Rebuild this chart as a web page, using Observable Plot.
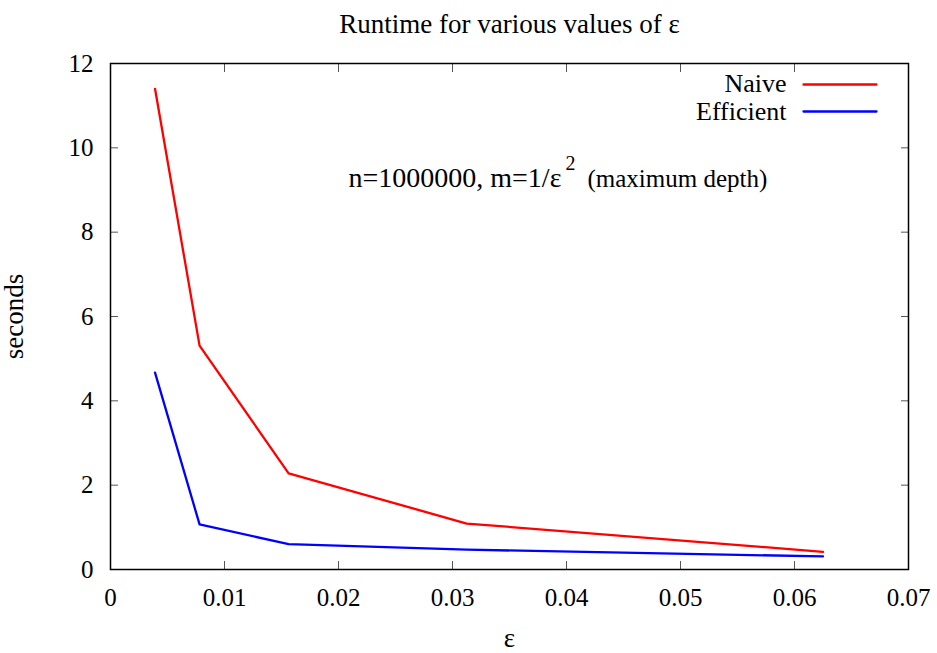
<!DOCTYPE html>
<html>
<head>
<meta charset="utf-8">
<script src="https://cdn.jsdelivr.net/npm/d3@7"></script>
<script src="https://cdn.jsdelivr.net/npm/@observablehq/plot@0.6"></script>
<style>
  html, body { margin: 0; padding: 0; background: white; }
</style>
</head>
<body>
<div id="chart"></div>
<script>
// ---- data ----
const eps = [0.00390625, 0.0078125, 0.015625, 0.03125, 0.0625];
const naive = [11.4, 5.31, 2.28, 1.09, 0.42];
const efficient = [4.67, 1.07, 0.60, 0.47, 0.31];
const xTicks = [0, 0.01, 0.02, 0.03, 0.04, 0.05, 0.06, 0.07];
const xTickLabels = ["0", "0.01", "0.02", "0.03", "0.04", "0.05", "0.06", "0.07"];
const yTicks = [0, 2, 4, 6, 8, 10, 12];
const yTickLabels = ["0", "2", "4", "6", "8", "10", "12"];
const seriesNames = ["Naive", "Efficient"];
const seriesColors = ["#ff0000", "#0000ff"];
const titleText = "Runtime for various values of ε";
const xLabel = "ε";
const yLabel = "seconds";
const annotationParts = ["n=1000000, m=1/ε", "2", "(maximum depth)"];

const naiveData = eps.map((x, i) => ({x, y: naive[i]}));
const effData = eps.map((x, i) => ({x, y: efficient[i]}));

const FS = 27;      // title, labels
const LFS = 26;     // legend
const TFS = 25;     // tick labels
const font = "'Liberation Serif', 'Times New Roman', Times, serif";
const lineShape = {draw(ctx, l) { ctx.moveTo(0, 0); ctx.lineTo(0, -l); }};

const chart = Plot.plot({
  width: 937,
  height: 653,
  marginLeft: 110,
  marginRight: 29,
  marginTop: 63,
  marginBottom: 84,
  style: {fontFamily: font, fontSize: FS + "px", background: "white", color: "black", overflow: "visible"},
  x: {domain: [0, 0.07], label: null},
  y: {domain: [0, 12], label: null},
  marks: [
    // mirrored inward ticks
    Plot.axisX(xTicks, {anchor: "bottom", tickSize: -8, tickPadding: 27, label: null,
      tickFormat: d => xTickLabels[xTicks.indexOf(d)], fontSize: TFS, fontFamily: font, stroke: "#555"}),
    Plot.axisX(xTicks, {anchor: "top", tickSize: -8, label: null, tickFormat: () => "", stroke: "#555"}),
    Plot.axisY(yTicks, {anchor: "left", tickSize: -8, tickPadding: 25, label: null,
      tickFormat: d => yTickLabels[yTicks.indexOf(d)], fontSize: TFS, fontFamily: font, stroke: "#555"}),
    Plot.axisY(yTicks, {anchor: "right", tickSize: -8, label: null, tickFormat: () => "", stroke: "#555"}),
    Plot.frame({stroke: "black", strokeWidth: 1.5}),
    // series
    Plot.line(naiveData, {x: "x", y: "y", stroke: seriesColors[0], strokeWidth: 2.3}),
    Plot.line(effData, {x: "x", y: "y", stroke: seriesColors[1], strokeWidth: 2.3}),
    // legend
    Plot.text([seriesNames[0]], {frameAnchor: "top-right", dx: -122, dy: 20, textAnchor: "end", lineAnchor: "middle", fontSize: LFS, fontFamily: font}),
    Plot.text([seriesNames[1]], {frameAnchor: "top-right", dx: -122, dy: 48, textAnchor: "end", lineAnchor: "middle", fontSize: LFS, fontFamily: font}),
    Plot.vector([seriesNames[0]], {frameAnchor: "top-right", dx: -105, dy: 21, rotate: 90, length: 73, anchor: "start", shape: lineShape, stroke: seriesColors[0], strokeWidth: 2.3}),
    Plot.vector([seriesNames[1]], {frameAnchor: "top-right", dx: -105, dy: 48, rotate: 90, length: 73, anchor: "start", shape: lineShape, stroke: seriesColors[1], strokeWidth: 2.3}),
    // annotation (with superscript)
    Plot.text([annotationParts[0]], {frameAnchor: "top-left", dx: 238, dy: 123, textAnchor: "start", lineAnchor: "bottom", fontSize: 28, fontFamily: font}),
    Plot.text([annotationParts[1]], {frameAnchor: "top-left", dx: 455, dy: 106, textAnchor: "start", lineAnchor: "bottom", fontSize: 20, fontFamily: font}),
    Plot.text([annotationParts[2]], {frameAnchor: "top-left", dx: 477, dy: 123, textAnchor: "start", lineAnchor: "bottom", fontSize: 25, fontFamily: font}),
    // title and axis labels
    Plot.text([titleText], {frameAnchor: "top", dy: -31, textAnchor: "middle", lineAnchor: "bottom", fontSize: FS, fontFamily: font}),
    Plot.text([xLabel], {frameAnchor: "bottom", dy: 77, textAnchor: "middle", lineAnchor: "bottom", fontSize: FS, fontFamily: font}),
    Plot.text([yLabel], {frameAnchor: "left", dx: -96, rotate: -90, textAnchor: "middle", lineAnchor: "middle", fontSize: FS, fontFamily: font})
  ]
});
document.getElementById("chart").appendChild(chart);
</script>
</body>
</html>
